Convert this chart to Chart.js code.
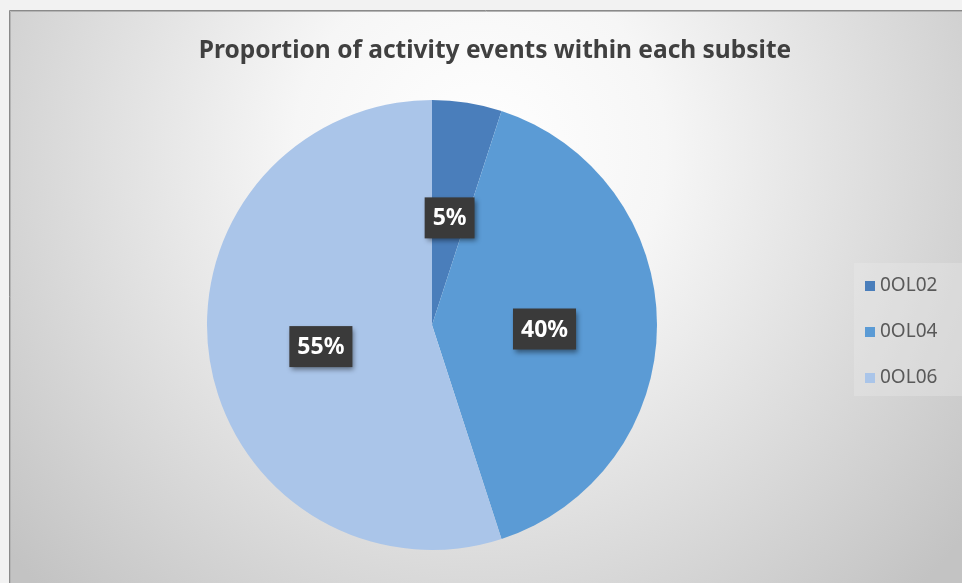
<!DOCTYPE html>
<html lang="en">
  <head>
    <meta charset="UTF-8" />
    <title>Activity events by subsite</title>
    <script src="https://cdn.jsdelivr.net/npm/chart.js"></script>
    <style>
      body {
        margin: 0;
        overflow: hidden;
        background: #f2f2f2;
      }
      canvas {
        display: block;
      }
    </style>
  </head>
  <body>
    <canvas id="myChart" width="962" height="583"></canvas>
    <script>
      const categories = ["0OL02", "0OL04", "0OL06"];
      const shares = [5, 40, 55];
      const sliceColors = ["#4a7ebb", "#5b9bd5", "#aac5e9"];
      const chartTitle = "Proportion of activity events within each subsite";

      const fontFamily = "'Noto Sans', 'DejaVu Sans', sans-serif";

      // frame, gradient fill and the title
      const backdrop = {
        id: "backdrop",
        beforeDraw(chart) {
          const ctx = chart.ctx;
          const w = chart.width;
          const h = chart.height;
          ctx.save();
          ctx.fillStyle = "#f2f2f2";
          ctx.fillRect(0, 0, w, h);

          const g = ctx.createRadialGradient(480, 150, 0, 480, 150, 620);
          g.addColorStop(0, "#ffffff");
          g.addColorStop(0.3, "#f6f6f6");
          g.addColorStop(1, "#c3c3c3");
          ctx.fillStyle = g;
          ctx.fillRect(10, 11, w - 10, h - 11);

          ctx.strokeStyle = "#8a8a8a";
          ctx.lineWidth = 1;
          ctx.beginPath();
          ctx.moveTo(9.5, h);
          ctx.lineTo(9.5, 10.5);
          ctx.lineTo(w, 10.5);
          ctx.stroke();
          ctx.strokeStyle = "#b4b4b4";
          ctx.beginPath();
          ctx.moveTo(10.5, h);
          ctx.lineTo(10.5, 11.5);
          ctx.lineTo(w, 11.5);
          ctx.stroke();

          ctx.fillStyle = "#404040";
          ctx.font = "bold 24.5px " + fontFamily;
          ctx.textAlign = "center";
          ctx.textBaseline = "middle";
          ctx.fillText(chartTitle, 495, 51);
          ctx.restore();
        },
      };

      // dark value boxes on each slice
      const valueBoxes = {
        id: "valueBoxes",
        afterDatasetsDraw(chart) {
          const ctx = chart.ctx;
          const meta = chart.getDatasetMeta(0);
          ctx.save();
          ctx.font = "bold 23px " + fontFamily;
          ctx.textAlign = "center";
          ctx.textBaseline = "middle";
          meta.data.forEach((arc, i) => {
            const p = arc.getCenterPoint();
            const text = chart.data.datasets[0].data[i] + "%";
            const bw = ctx.measureText(text).width + 16;
            const bh = 41;
            const x = p.x;
            const y = p.y + 4;
            ctx.save();
            ctx.shadowColor = "rgba(0,0,0,0.45)";
            ctx.shadowBlur = 5;
            ctx.shadowOffsetX = 2;
            ctx.shadowOffsetY = 3;
            ctx.fillStyle = "#3a3a3a";
            ctx.fillRect(x - bw / 2, y - bh / 2, bw, bh);
            ctx.restore();
            ctx.fillStyle = "#ffffff";
            ctx.fillText(text, x, y + 1);
          });
          ctx.restore();
        },
      };

      // legend panel on the right
      const sideLegend = {
        id: "sideLegend",
        afterDraw(chart) {
          const ctx = chart.ctx;
          const colors = chart.data.datasets[0].backgroundColor;
          ctx.save();
          ctx.fillStyle = "rgba(235,235,235,0.35)";
          ctx.fillRect(854, 263, 108, 133);
          ctx.font = "19px " + fontFamily;
          ctx.textAlign = "left";
          ctx.textBaseline = "middle";
          chart.data.labels.forEach((label, i) => {
            const y = 286 + i * 46;
            ctx.fillStyle = colors[i];
            ctx.fillRect(865, y - 5, 10, 10);
            ctx.fillStyle = "#595959";
            ctx.fillText(label, 880, y);
          });
          ctx.restore();
        },
      };

      const ctx = document.getElementById("myChart");

      new Chart(ctx, {
        type: "pie",
        data: {
          labels: categories,
          datasets: [
            {
              data: shares,
              backgroundColor: sliceColors,
              borderWidth: 0,
            },
          ],
        },
        options: {
          responsive: false,
          animation: false,
          layout: {
            padding: { left: 206, right: 304, top: 100, bottom: 33 },
          },
          plugins: {
            legend: { display: false },
            title: { display: false },
            tooltip: { enabled: false },
          },
        },
        plugins: [backdrop, valueBoxes, sideLegend],
      });
    </script>
  </body>
</html>
